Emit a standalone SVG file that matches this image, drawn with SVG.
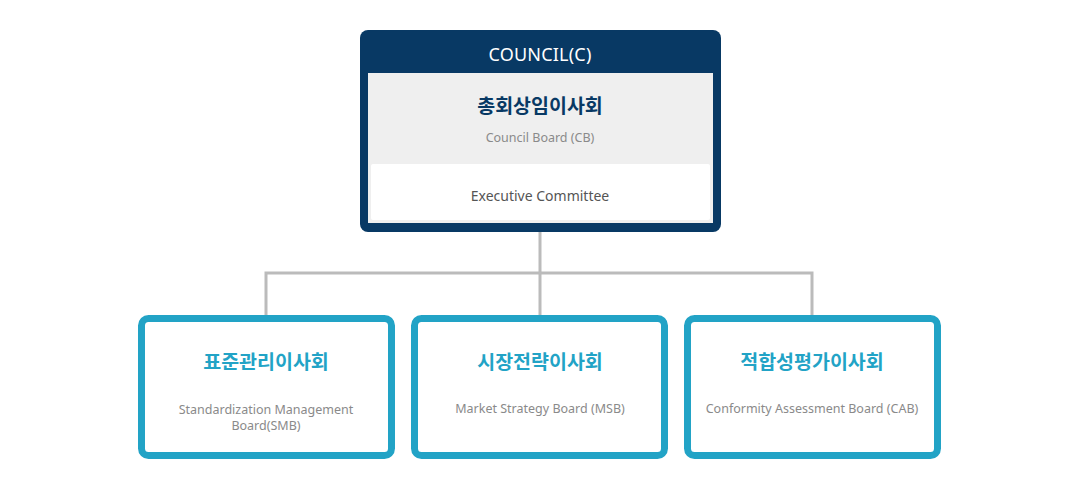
<svg xmlns="http://www.w3.org/2000/svg" width="1080" height="486" viewBox="0 0 1080 486">
<style>
.lat{font-family:"Noto Sans","Noto Sans CJK KR",sans-serif;text-anchor:middle}
.kr{font-family:"Noto Sans CJK KR",sans-serif;font-weight:bold;font-size:19.5px;text-anchor:middle}
.en{font-family:"Noto Sans","Noto Sans CJK KR",sans-serif;font-size:12.5px;fill:#8a8a8a;text-anchor:middle}
.child{fill:#fff;stroke:#22a3c6;stroke-width:7}
.conn{fill:none;stroke:#bbbbbb;stroke-width:3}
</style>
<rect width="1080" height="486" fill="#fff"/>
<g id="connectors">
<path class="conn" d="M540 231V273M266 316V273H812V316M540 273V316"/>
</g>
<g id="council">
<rect x="360" y="30" width="361" height="202" rx="8" fill="#083964"/>
<rect x="368" y="73" width="345" height="150" fill="#efefef"/>
<rect x="371" y="164" width="339" height="56" rx="2" fill="#fff"/>
<text x="540" y="61" class="lat" font-size="18" fill="#fff" letter-spacing="0.2">COUNCIL(C)</text>
<text x="540" y="113" class="kr" fill="#083964">총회상임이사회</text>
<text x="540" y="142" class="en" font-size="13" fill="#9a9a9a">Council Board (CB)</text>
<text x="540" y="201" class="lat" font-size="14" fill="#555">Executive Committee</text>
</g>
<g id="smb">
<rect class="child" x="141.5" y="318.5" width="250" height="137" rx="7"/>
<text x="266" y="369" class="kr" fill="#22a3c6">표준관리이사회</text>
<text x="266" y="414" class="en">Standardization Management</text>
<text x="266" y="430" class="en">Board(SMB)</text>
</g>
<g id="msb">
<rect class="child" x="414.5" y="318.5" width="250" height="137" rx="7"/>
<text x="540" y="369" class="kr" fill="#22a3c6">시장전략이사회</text>
<text x="540" y="413" class="en">Market Strategy Board (MSB)</text>
</g>
<g id="cab">
<rect class="child" x="687.5" y="318.5" width="250" height="137" rx="7"/>
<text x="812" y="369" class="kr" fill="#22a3c6">적합성평가이사회</text>
<text x="812" y="413" class="en">Conformity Assessment Board (CAB)</text>
</g>
</svg>
